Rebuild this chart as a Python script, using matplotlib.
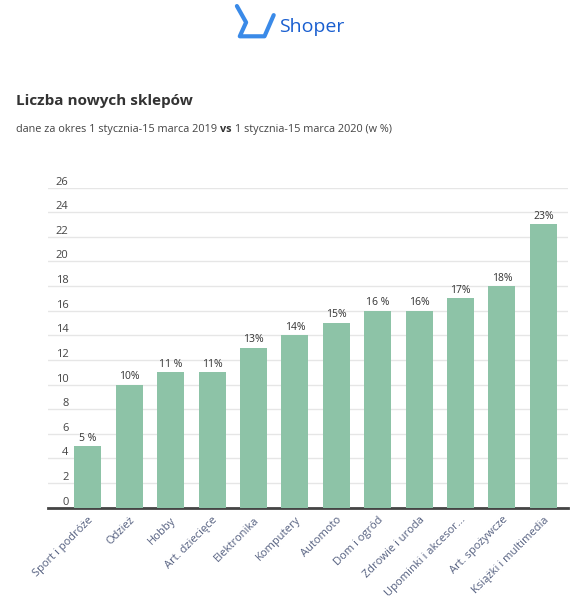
import matplotlib
matplotlib.use("Agg")
import matplotlib.pyplot as plt

categories = ["Sport i podróże", "Odzież", "Hobby", "Art. dziecięce", "Elektronika", "Komputery",
              "Automoto", "Dom i ogród", "Zdrowie i uroda", "Upominki i akcesor...", "Art. spożywcze",
              "Książki i multimedia"]
values = [5, 10, 11, 11, 13, 14, 15, 16, 16, 17, 18, 23]
labels = ["5 %", "10%", "11 %", "11%", "13%", "14%", "15%", "16 %", "16%", "17%", "18%", "23%"]
yticks = list(range(0, 27, 2))

plt.rcParams['font.family'] = ['Open Sans', 'DejaVu Sans']
fig = plt.figure(figsize=(5.75, 6.05), dpi=100)
ax = fig.add_axes([0.083, 0.161, 0.905, 0.529])
x = list(range(len(values)))
ax.bar(x, values, width=0.65, color="#8dc3a7", zorder=3)
for xi, v, l in zip(x, values, labels):
    ax.text(xi, v + 0.2, l, ha="center", va="bottom", fontsize=7.5, color="#333333")
ax.set_xlim(-0.97, 11.6)
ax.set_ylim(0, 26)
ax.set_yticks(yticks)
ax.set_yticklabels([str(t) for t in yticks], fontsize=8, color="#444444")
ax.tick_params(axis='y', length=0, pad=-15)
for t in ax.get_yticklabels():
    t.set_verticalalignment('bottom')
ax.grid(axis='y', color="#e6e6e6", lw=1, zorder=0)
ax.set_xticks(x)
ax.set_xticklabels(categories, rotation=45, ha="right", rotation_mode="anchor", fontsize=8, color="#556080")
ax.tick_params(axis='x', length=0, pad=5)
for s in ["top", "right", "left"]:
    ax.spines[s].set_visible(False)
ax.spines["bottom"].set_color("#444444")
ax.spines["bottom"].set_linewidth(2)

fig.text(0.028, 0.826, "Liczba nowych sklepów", fontsize=11, fontweight="bold", color="#333333")
t1 = fig.text(0.028, 0.782, "dane za okres 1 stycznia-15 marca 2019 ", fontsize=7.8, color="#444444")
fig.canvas.draw()
bb = t1.get_window_extent()
t2 = fig.text(bb.x1 / fig.bbox.width, 0.782, "vs", fontsize=7.8, fontweight="bold", color="#333333")
fig.canvas.draw()
bb2 = t2.get_window_extent()
fig.text(bb2.x1 / fig.bbox.width, 0.782, " 1 stycznia-15 marca 2020 (w %)", fontsize=7.8, color="#444444")
fig.text(0.486, 0.955, "Shoper", fontsize=14, color="#1a5fd0", va="center")
fig.lines.append(plt.Line2D([0.412, 0.428, 0.417, 0.460, 0.476], [0.990, 0.963, 0.940, 0.940, 0.975],
                            transform=fig.transFigure, color="#3a8ae8", lw=3, solid_capstyle="round"))
fig.savefig("out.png", dpi=100)
